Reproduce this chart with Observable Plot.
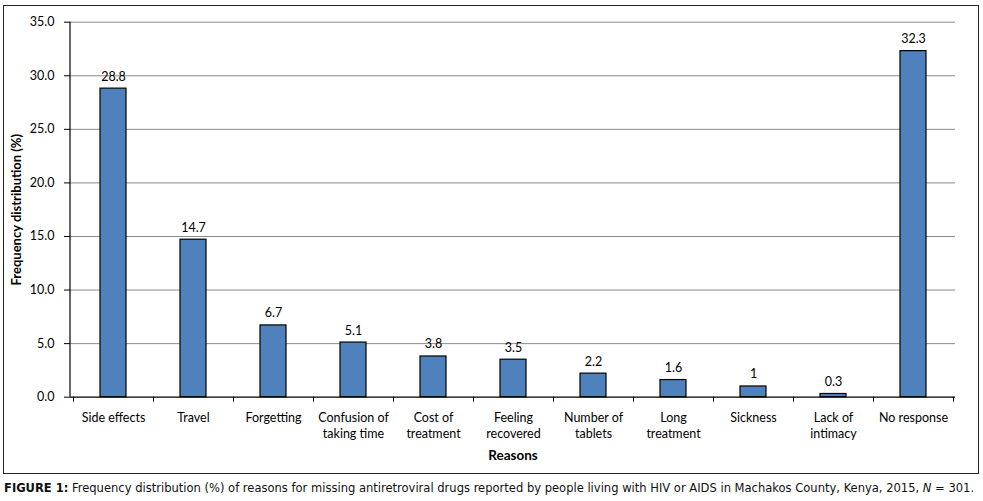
<!DOCTYPE html>
<html><head><meta charset="utf-8">
<script src="https://cdn.jsdelivr.net/npm/d3@7"></script>
<script src="https://cdn.jsdelivr.net/npm/@observablehq/plot@0.6"></script>
<style>
body{margin:0;background:#fff;}
#wrap{position:relative;width:983px;height:501px;overflow:hidden;}
#box{position:absolute;left:3px;top:5px;width:974px;height:467px;border:1.5px solid #222;pointer-events:none;}
#caption{position:absolute;left:4px;top:482px;white-space:nowrap;font-family:"Liberation Sans Narrow","DejaVu Sans Condensed","Liberation Sans",sans-serif;font-size:12.5px;color:#111;line-height:1;}
#chart svg, #chart svg text, #chart svg g {font-family: "Lato", "Open Sans", sans-serif !important;}
</style></head>
<body><div id="wrap"><div id="chart"></div><div id="box"></div>
<div id="caption"><span id="capspan"><b>FIGURE 1:</b> Frequency distribution (%) of reasons for missing antiretroviral drugs reported by people living with HIV or AIDS in Machakos County, Kenya, 2015, <i>N</i> = 301.</span></div></div>
<script>
const reasons = ["Side effects","Travel","Forgetting","Confusion of\ntaking time","Cost of\ntreatment","Feeling\nrecovered","Number of\ntablets","Long\ntreatment","Sickness","Lack of\nintimacy","No response"];
const values = [28.8,14.7,6.7,5.1,3.8,3.5,2.2,1.6,1,0.3,32.3];
const valueLabels = ["28.8","14.7","6.7","5.1","3.8","3.5","2.2","1.6","1","0.3","32.3"];
const yTicks = [0,5,10,15,20,25,30,35];
const yLabel = "Frequency distribution (%)";
const xLabel = "Reasons";

const data = reasons.map((r,i)=>({reason:r, value:values[i], label:valueLabels[i]}));
const font = "Lato, 'Open Sans', sans-serif";

function frameMark(index, scales, values, dims) {
  const x = scales.x, y = scales.y;
  const step = x(reasons[1]) - x(reasons[0]);
  let bw = typeof x.bandwidth === "function" ? x.bandwidth() : (scales.scales && scales.scales.x ? scales.scales.x.bandwidth : step*0.32);
  const x0 = x(reasons[0]) - (step - bw)/2;
  const yb = y(0), yt = y(35);
  const g = d3.create("svg:g");
  g.append("line").attr("x1",dims.marginLeft).attr("x2",dims.marginLeft).attr("y1",yt).attr("y2",yb).attr("stroke","#000").attr("stroke-width",1.2);
  for (let i=0;i<=reasons.length;i++){
    const xx = Math.round(x0 + i*step)+0.5;
    g.append("line").attr("x1",xx).attr("x2",xx).attr("y1",yb).attr("y2",yb+5).attr("stroke","#000").attr("stroke-width",1);
  }
  return g.node();
}

const chart = Plot.plot({
  width: 983,
  height: 478,
  marginLeft: 70,
  marginRight: 28,
  marginTop: 21.7,
  marginBottom: 81.3,
  style: {fontFamily: font, fontSize: "12px", color:"#000", background:"transparent"},
  x: {domain: reasons, paddingInner: 0.68, paddingOuter: 0.34},
  y: {domain: [0,35]},
  marks: [
    Plot.ruleY(yTicks.filter(t=>t>0), {stroke:"#8a8a8a", strokeWidth:1}),
    Plot.axisY({ticks: yTicks, tickFormat: d3.format(".1f"), tickSize: 6, tickPadding: 10, label: null, fontSize: 12.5, stroke:"#000"}),
    Plot.axisX({tickSize: 0, tickPadding: 14, label: null, fontSize: 12.5, lineHeight: 1.25}),
    Plot.barY(data, {x:"reason", y:"value", fill:"#4F81BD", stroke:"#000", strokeWidth:1.2}),
    Plot.ruleY([0], {stroke:"#000", strokeWidth:1.2}),
    frameMark,
    Plot.text(data, {x:"reason", y:"value", text:"label", dy:-12, fontSize:12.5, fill:"#000"}),
    Plot.text([yLabel], {text: d=>d, frameAnchor:"left", textAnchor:"middle", lineAnchor:"middle", rotate:-90, dx:-54, fontWeight:"bold", fontSize:13, fill:"#000"}),
    Plot.text([xLabel], {text: d=>d, frameAnchor:"bottom", textAnchor:"middle", lineAnchor:"middle", dy:58, fontWeight:"bold", fontSize:13.5, fill:"#000"})
  ]
});
document.getElementById("chart").appendChild(chart);

// fit caption to width
const span = document.getElementById("capspan");
const cap = document.getElementById("caption");
let w = span.getBoundingClientRect().width;
if (w > 0) { cap.style.fontSize = (12.5 * 971 / w) + "px"; }
</script>
</body></html>
